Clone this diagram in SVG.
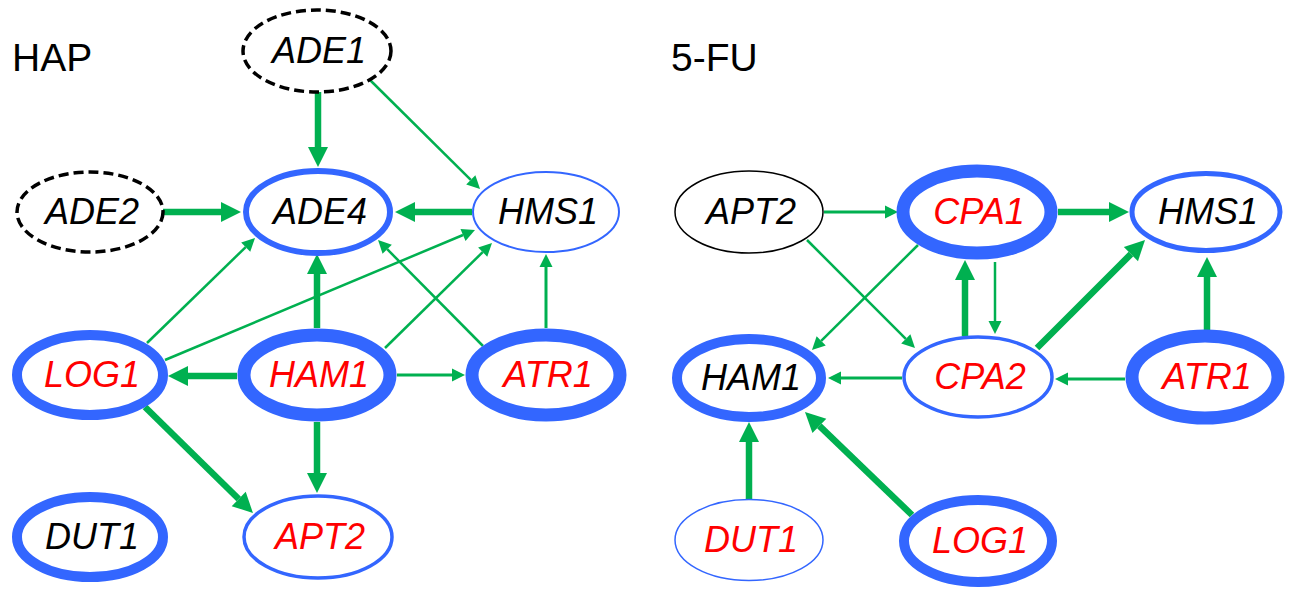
<svg xmlns="http://www.w3.org/2000/svg" width="1290" height="590" viewBox="0 0 1290 590">
<style>
.n{fill:#fff;stroke:#3366FF}
.d{fill:#fff;stroke:#000;stroke-width:3.5;stroke-dasharray:10 5}
.t{font-family:"Liberation Sans",Arial,sans-serif;font-style:italic;font-size:36px;text-anchor:middle}
.k{fill:#000}.r{fill:#FF0000}
.h{font-family:"Liberation Sans",Arial,sans-serif;font-size:39px;fill:#000}
.e{stroke:#00B050;fill:none}
.s{stroke-width:2.5;marker-end:url(#sm)}
.m{stroke-width:3;marker-end:url(#sm)}
.L{stroke-width:6.5;marker-end:url(#lg)}
</style>
<defs>
<marker id="sm" markerUnits="userSpaceOnUse" markerWidth="14" markerHeight="14" refX="0" refY="6.5" orient="auto" overflow="visible"><path d="M0,0 L13,6.5 L0,13 z" fill="#00B050"/></marker>
<marker id="lg" markerUnits="userSpaceOnUse" markerWidth="21" markerHeight="21" refX="0" refY="10" orient="auto" overflow="visible"><path d="M0,0 L20,10 L0,20 z" fill="#00B050"/></marker>
</defs>
<text class="h" x="12" y="71">HAP</text>
<text class="h" x="671" y="71">5-FU</text>
<g id="connectors">
<line class="e L" x1="318" y1="92" x2="318" y2="147"/>
<line class="e s" x1="370" y1="80" x2="470.8" y2="179.8"/>
<line class="e L" x1="163" y1="212" x2="221" y2="212"/>
<line class="e L" x1="472" y1="212" x2="415" y2="212"/>
<line class="e s" x1="147" y1="343" x2="245.7" y2="247.1"/>
<line class="e s" x1="165" y1="360" x2="463" y2="235"/>
<line class="e L" x1="317" y1="328" x2="317" y2="274"/>
<line class="e s" x1="385" y1="348" x2="482.7" y2="252.1"/>
<line class="e s" x1="483" y1="346" x2="387.2" y2="249.2"/>
<line class="e m" x1="546" y1="328" x2="546" y2="267"/>
<line class="e L" x1="237" y1="376" x2="188" y2="376"/>
<line class="e m" x1="397" y1="375" x2="452" y2="375"/>
<line class="e L" x1="317" y1="422" x2="317" y2="473"/>
<line class="e L" x1="145" y1="407" x2="238.7" y2="499"/>
<line class="e m" x1="824" y1="212" x2="885" y2="212"/>
<line class="e L" x1="1058" y1="212" x2="1109" y2="212"/>
<line class="e s" x1="807" y1="240" x2="905.8" y2="338.8"/>
<line class="e s" x1="918" y1="245" x2="821.2" y2="340.9"/>
<line class="e L" x1="965" y1="336" x2="965" y2="280"/>
<line class="e s" x1="995" y1="262" x2="995" y2="321"/>
<line class="e L" x1="1037" y1="348" x2="1130.9" y2="254.1"/>
<line class="e L" x1="1207" y1="330" x2="1207" y2="277"/>
<line class="e m" x1="902" y1="378" x2="841" y2="378"/>
<line class="e m" x1="1125" y1="379" x2="1068" y2="379"/>
<line class="e L" x1="749" y1="499" x2="749" y2="442"/>
<line class="e L" x1="912" y1="515" x2="819.4" y2="425.9"/>
</g>
<g id="L_ADE1"><ellipse class="d" cx="317" cy="51" rx="74" ry="41"/><text class="t k" x="319" y="63">ADE1</text></g>
<g id="L_ADE2"><ellipse class="d" cx="90" cy="212" rx="73" ry="40"/><text class="t k" x="92" y="224">ADE2</text></g>
<g id="L_ADE4"><ellipse class="n" stroke-width="6" cx="318" cy="212" rx="72" ry="41"/><text class="t k" x="320" y="224">ADE4</text></g>
<g id="L_HMS1"><ellipse class="n" stroke-width="2" cx="546" cy="212" rx="73" ry="40"/><text class="t k" x="548" y="224">HMS1</text></g>
<g id="L_LOG1"><ellipse class="n" stroke-width="10" cx="90" cy="375" rx="73" ry="40"/><text class="t r" x="92" y="387">LOG1</text></g>
<g id="L_HAM1"><ellipse class="n" stroke-width="13" cx="317" cy="375" rx="73" ry="40"/><text class="t r" x="319" y="387">HAM1</text></g>
<g id="L_ATR1"><ellipse class="n" stroke-width="13" cx="546" cy="375" rx="74" ry="40"/><text class="t r" x="548" y="387">ATR1</text></g>
<g id="L_DUT1"><ellipse class="n" stroke-width="10" cx="90" cy="537" rx="73" ry="40"/><text class="t k" x="92" y="549">DUT1</text></g>
<g id="L_APT2"><ellipse class="n" stroke-width="3.5" cx="318" cy="537" rx="74" ry="41"/><text class="t r" x="320" y="549">APT2</text></g>
<g id="R_APT2"><ellipse fill="#fff" stroke="#000" stroke-width="1.5" cx="749" cy="212" rx="74" ry="41"/><text class="t k" x="751" y="224">APT2</text></g>
<g id="R_CPA1"><ellipse class="n" stroke-width="13" cx="977" cy="212" rx="74" ry="41"/><text class="t r" x="979" y="224">CPA1</text></g>
<g id="R_HMS1"><ellipse class="n" stroke-width="5" cx="1206" cy="212" rx="74" ry="38.5"/><text class="t k" x="1208" y="224">HMS1</text></g>
<g id="R_HAM1"><ellipse class="n" stroke-width="10" cx="749" cy="378" rx="72" ry="39"/><text class="t k" x="751" y="390">HAM1</text></g>
<g id="R_CPA2"><ellipse class="n" stroke-width="3.5" cx="978" cy="377" rx="74" ry="40"/><text class="t r" x="980" y="389">CPA2</text></g>
<g id="R_ATR1"><ellipse class="n" stroke-width="13" cx="1205" cy="377" rx="73" ry="41"/><text class="t r" x="1207" y="389">ATR1</text></g>
<g id="R_DUT1"><ellipse class="n" stroke-width="1.5" cx="749" cy="540" rx="74" ry="40.5"/><text class="t r" x="751" y="552">DUT1</text></g>
<g id="R_LOG1"><ellipse class="n" stroke-width="10" cx="978" cy="541" rx="74" ry="41"/><text class="t r" x="980" y="553">LOG1</text></g>
</svg>
